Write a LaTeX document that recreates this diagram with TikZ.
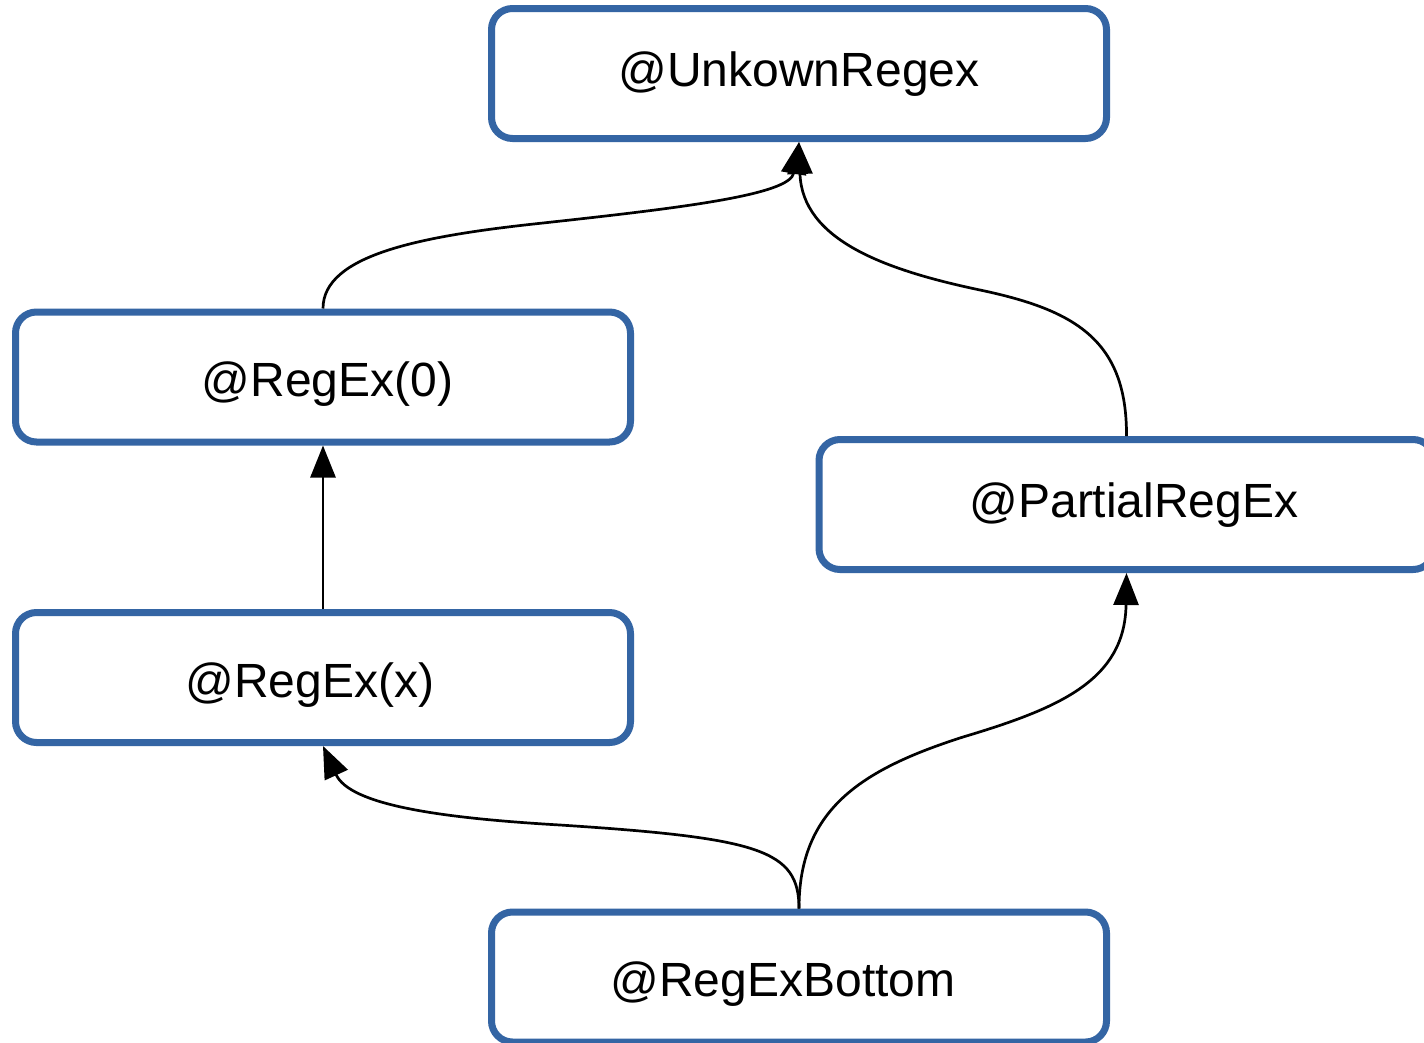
\documentclass[tikz,border=0pt]{standalone}
\usepackage{fontspec}
\setmainfont{Liberation Sans}
\usetikzlibrary{arrows.meta}
\definecolor{boxblue}{HTML}{3465A4}
\newcommand{\lowered}[2]{\raisebox{-#1}[\height][\depth]{#2}}
\tikzset{
  regbox/.style={draw=boxblue, line width=7pt, rounded corners=21pt,
    minimum width=615pt, minimum height=130pt, inner sep=0pt,
    font=\fontsize{48}{57}\selectfont, text=black},
  edge/.style={line width=2.7pt, -{Triangle[length=32pt,width=25pt]}}
}
\begin{document}
\begin{tikzpicture}[x=1pt,y=-1pt]
\useasboundingbox (0,0) rectangle (1424,1042);
\clip (0,0) rectangle (1424,1042);
\fill[white] (0,0) rectangle (1424,1042);
\node[regbox] (unk) at (799,73.5) {\lowered{1pt}{@UnkownRegex}};
\node[regbox] (r0) at (323,377) {\hspace*{9pt}\lowered{7pt}{@RegEx(0)}};
\node[regbox] (partial) at (1126.5,504.5) {\hspace*{15pt}\lowered{1pt}{@PartialRegEx}};
\node[regbox] (rx) at (323,677.5) {\hspace*{-26pt}\lowered{8pt}{@RegEx(x)}};
\node[regbox] (bottom) at (799,977) {\hspace*{-32pt}\lowered{7pt}{@RegExBottom}};
% edges
\draw[edge] (r0.north) .. controls (323,255) and (420,236) .. (543,223)
  .. controls (680,208) and (790,195) .. (unk.south);
\draw[edge] (partial.north) .. controls (1127,340) and (1075,310) .. (980,290)
  .. controls (885,270) and (802,240) .. (unk.south);
\draw[edge] (rx.north) -- (r0.south);
\draw[edge] (bottom.north) .. controls (799,850) and (760,838) .. (560,825)
  .. controls (440,818) and (350,805) .. (rx.south);
\draw[edge] (bottom.north) .. controls (799,810) and (860,770) .. (963,737)
  .. controls (1060,708) and (1125,680) .. (partial.south);
\end{tikzpicture}
\end{document}
